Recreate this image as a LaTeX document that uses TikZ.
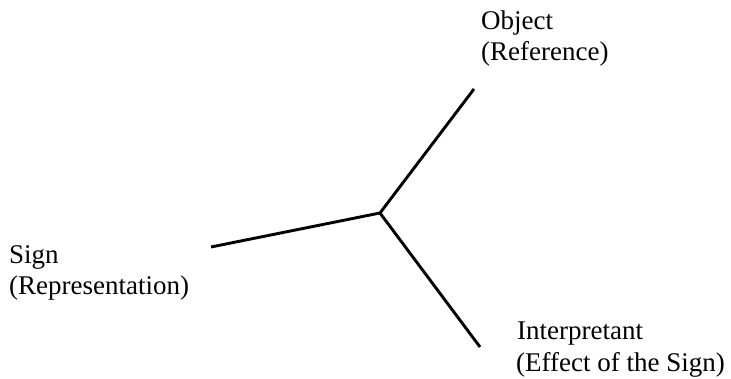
\documentclass[tikz,border=0pt]{standalone}
\usepackage{fontspec}
\setmainfont{Liberation Serif}
\begin{document}
\begin{tikzpicture}[x=1pt,y=-1pt,
  lbl/.style={anchor=base west,inner sep=0pt,font=\fontsize{27}{31}\selectfont},
  link/.style={line width=2.9pt,line cap=butt}]
\useasboundingbox (0,0) rectangle (731,379);
\coordinate (hub) at (380,213);
\coordinate (objend) at (474,89);
\coordinate (signend) at (211,247);
\coordinate (intend) at (480,347);
\node[lbl] (obj1) at (481,29.5) {Object};
\node[lbl] (obj2) at (481,60.5) {(Reference)};
\node[lbl] (sign1) at (9,264) {Sign};
\node[lbl] (sign2) at (9,295) {(Representation)};
\node[lbl] (int1) at (517,340) {Interpretant};
\node[lbl] (int2) at (516,371) {(Effect of the Sign)};
\draw[link] (objend) -- (hub) -- (intend);
\draw[link] (signend) -- (hub);
\end{tikzpicture}
\end{document}
